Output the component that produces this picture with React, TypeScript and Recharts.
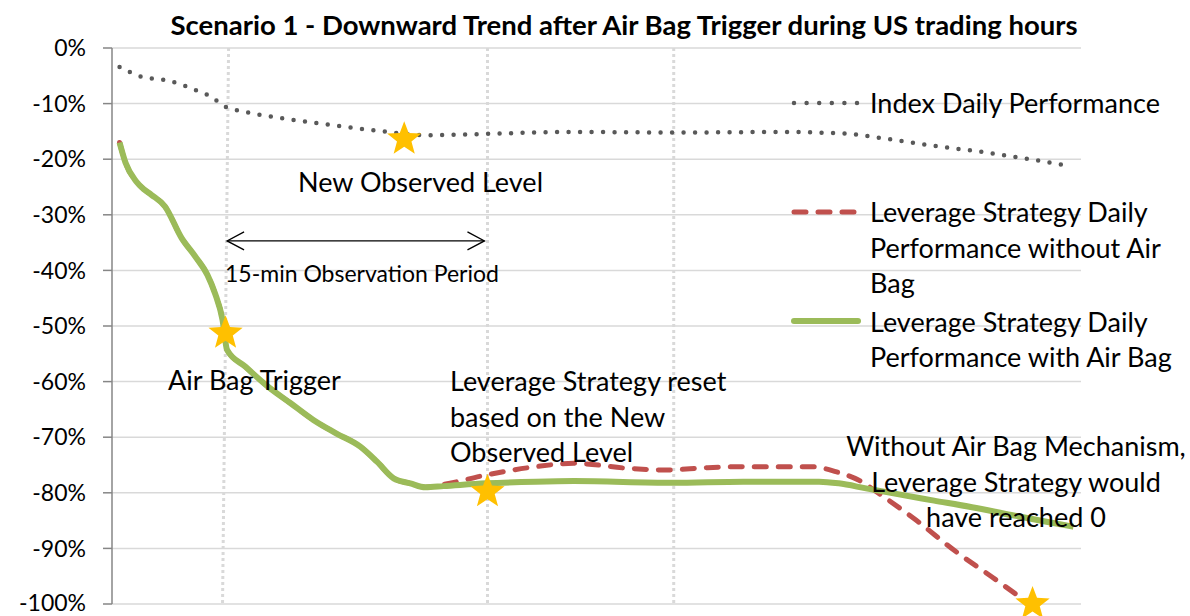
import { ComposedChart, Line, Scatter, XAxis, YAxis, CartesianGrid, ReferenceLine } from 'recharts';

const FONT = 'Lato, "Open Sans", sans-serif';

// x = time step through the session (axis has no labels), y = daily performance in %
const indexTime = [0.5, 2.0, 3.6, 5.9, 6.6, 7.3, 8.8, 11.2, 14.3, 17.6, 20.8, 24.0, 30.5, 37.0, 44.2, 48.4, 50.8, 54.0, 57.2, 60.4, 62.8];
const indexPerf = [-3.4, -5.2, -5.8, -8.0, -8.8, -10.3, -11.5, -12.6, -13.8, -14.9, -15.7, -15.5, -15.1, -15.2, -15.1, -15.4, -16.2, -17.5, -18.6, -19.9, -21.0];

// both leverage lines follow the same path until the reset
const sharedTime = [0.5, 0.9, 1.6, 2.1, 2.6, 3.5, 4.6, 5.5, 6.3, 6.8, 7.3, 7.6, 8.8, 10.3, 11.8, 13.3, 14.8, 16.4, 17.5, 18.6, 19.7, 20.7];
const sharedPerf = [-17.0, -20.7, -24.0, -25.4, -26.4, -28.5, -34.2, -37.5, -40.8, -44.1, -48.9, -54.3, -57.3, -60.9, -63.9, -66.9, -69.3, -71.7, -74.4, -77.4, -78.3, -79.0];

const withAirBagTime = [21.9, 24.7, 28.0, 30.5, 37.0, 41.7, 46.7, 48.0, 49.8, 51.8, 54.3, 56.8, 59.4, 61.9, 63.5];
const withAirBagPerf = [-78.8, -78.3, -78.0, -77.9, -78.2, -78.0, -78.0, -78.3, -79.2, -80.2, -81.4, -82.6, -84.0, -85.3, -86.1];

const withoutAirBagTime = [21.9, 24.7, 28.0, 30.5, 34.1, 36.6, 39.2, 41.7, 46.2, 47.8, 49.3, 50.8, 53.1, 55.6, 58.1, 60.6];
const withoutAirBagPerf = [-78.5, -76.8, -75.3, -74.7, -75.6, -75.9, -75.5, -75.3, -75.3, -76.2, -77.7, -80.4, -84.9, -90.3, -95.1, -100];

const starTime = [7.5, 19.3, 24.8, 60.8];
const starPerf = [-51.3, -16.4, -79.8, -100];

const markerTimes = [24.8, 37.1];
const yTicks = [0, -10, -20, -30, -40, -50, -60, -70, -80, -90, -100];

const toPoints = (t: number[], v: number[]) => t.map((x, i) => ({ t: x, v: v[i] }));

const indexData = toPoints(indexTime, indexPerf);
const withData = toPoints([...sharedTime, ...withAirBagTime], [...sharedPerf, ...withAirBagPerf]);
const withoutData = toPoints([...sharedTime, ...withoutAirBagTime], [...sharedPerf, ...withoutAirBagPerf]);
const starData = toPoints(starTime, starPerf);

const Star = (props: any) => {
  const { cx, cy } = props;
  const R = 18;
  const r = 7.6;
  const pts: string[] = [];
  for (let i = 0; i < 10; i++) {
    const a = -Math.PI / 2 + (i * Math.PI) / 5;
    const rad = i % 2 === 0 ? R : r;
    pts.push(`${cx + rad * Math.cos(a)},${cy + rad * Math.sin(a)}`);
  }
  return <polygon points={pts.join(' ')} fill="#FFC000" />;
};

const Arrow = (props: any) => {
  const { x1, y1, x2, y2 } = props;
  return (
    <g stroke="#000" strokeWidth={1.3} fill="none">
      <line x1={x1} y1={y1} x2={x2} y2={y2} />
      <polyline points={`${x1 + 17},${y1 - 9} ${x1},${y1} ${x1 + 17},${y1 + 9}`} />
      <polyline points={`${x2 - 17},${y2 - 9} ${x2},${y2} ${x2 - 17},${y2 + 9}`} />
    </g>
  );
};

const Note = ({ x, y, lines, size = 27, align = 'left', bold = false }: any) => (
  <div
    style={{
      position: 'absolute',
      left: align === 'center' ? x - 600 : x,
      width: align === 'center' ? 1200 : undefined,
      top: y,
      transform: 'translateY(-50%)',
      textAlign: align,
      fontSize: size,
      fontWeight: bold ? 700 : 400,
      lineHeight: '35.5px',
      whiteSpace: 'nowrap',
      color: '#000',
      pointerEvents: 'none',
    }}
  >
    {lines.map((l: string, i: number) => (
      <div key={i}>{l}</div>
    ))}
  </div>
);

const LegendSample = ({ y, kind }: { y: number; kind: string }) => (
  <svg style={{ position: 'absolute', left: 788, top: y - 8, overflow: 'visible' }} width={76} height={16}>
    {kind === 'dot' && <line x1={6} y1={8} x2={70} y2={8} stroke="#595959" strokeWidth={4.5} strokeDasharray="0 12.6" strokeLinecap="round" />}
    {kind === 'dash' && <line x1={6} y1={8} x2={68} y2={8} stroke="#C0504D" strokeWidth={5} strokeDasharray="12 12" strokeLinecap="round" />}
    {kind === 'solid' && <line x1={6} y1={8} x2={70} y2={8} stroke="#9BBB59" strokeWidth={6} strokeLinecap="round" />}
  </svg>
);

export default function App() {
  return (
    <div style={{ position: 'absolute', left: 0, top: 0, width: 1190, height: 616, background: '#fff', fontFamily: FONT, overflow: 'hidden' }}>
      <ComposedChart width={1190} height={616} margin={{ top: 48, right: 109, bottom: 12, left: 12 }}>
        <CartesianGrid vertical={false} stroke="#D9D9D9" strokeWidth={1.5} />
        <XAxis
          type="number"
          dataKey="t"
          domain={[0, 64]}
          orientation="top"
          height={0}
          tick={false}
          tickLine={false}
          axisLine={{ stroke: '#868686', strokeWidth: 2 }}
          allowDataOverflow
        />
        <YAxis
          type="number"
          dataKey="v"
          domain={[-100, 0]}
          ticks={yTicks}
          width={100}
          tickSize={9}
          tickMargin={17}
          tickFormatter={(v: number) => `${v}%`}
          tick={{ fill: '#000', fontSize: 23, fontFamily: FONT }}
          tickLine={{ stroke: '#868686', strokeWidth: 1.5 }}
          axisLine={{ stroke: '#868686', strokeWidth: 1.5 }}
        />
        <ReferenceLine
          segment={[{ x: 7.7, y: 0 }, { x: 7.3, y: -100 }]}
          stroke="#D9D9D9"
          strokeWidth={3}
          strokeDasharray="3 3"
          ifOverflow="visible"
        />
        {markerTimes.map((m) => (
          <ReferenceLine key={m} x={m} stroke="#D9D9D9" strokeWidth={3} strokeDasharray="3 3" />
        ))}
        <ReferenceLine
          segment={[{ x: 7.6, y: -34.7 }, { x: 24.6, y: -34.7 }]}
          shape={<Arrow />}
          ifOverflow="visible"
        />
        <Line
          data={indexData}
          dataKey="v"
          type="monotone"
          stroke="#595959"
          strokeWidth={4.5}
          strokeDasharray="0 11.5"
          strokeLinecap="round"
          dot={false}
          activeDot={false}
          isAnimationActive={false}
        />
        <Line
          data={withoutData}
          dataKey="v"
          type="monotone"
          stroke="#C0504D"
          strokeWidth={5}
          strokeDasharray="12 12"
          strokeLinecap="round"
          dot={false}
          activeDot={false}
          isAnimationActive={false}
        />
        <Line
          data={withData}
          dataKey="v"
          type="monotone"
          stroke="#9BBB59"
          strokeWidth={6}
          dot={false}
          activeDot={false}
          isAnimationActive={false}
        />
        <Scatter data={starData} dataKey="v" shape={<Star />} isAnimationActive={false} />
      </ComposedChart>

      <Note x={624} y={25} lines={['Scenario 1 - Downward Trend after Air Bag Trigger during US trading hours']} align="center" bold size={27.5} />
      <Note x={298} y={182} lines={['New Observed Level']} />
      <Note x={225} y={274} lines={['15-min Observation Period']} size={23} />
      <Note x={168} y={380} lines={['Air Bag Trigger']} />
      <Note x={450} y={416} lines={['Leverage Strategy reset', 'based on the New', 'Observed Level']} />
      <Note x={1016} y={481} lines={['Without Air Bag Mechanism,', 'Leverage Strategy would', 'have reached 0']} align="center" />

      <LegendSample y={103} kind="dot" />
      <LegendSample y={212} kind="dash" />
      <LegendSample y={321} kind="solid" />
      <Note x={870} y={103} lines={['Index Daily Performance']} />
      <Note x={870} y={247} lines={['Leverage Strategy Daily', 'Performance without Air', 'Bag']} />
      <Note x={870} y={338.5} lines={['Leverage Strategy Daily', 'Performance with Air Bag']} />
    </div>
  );
}
